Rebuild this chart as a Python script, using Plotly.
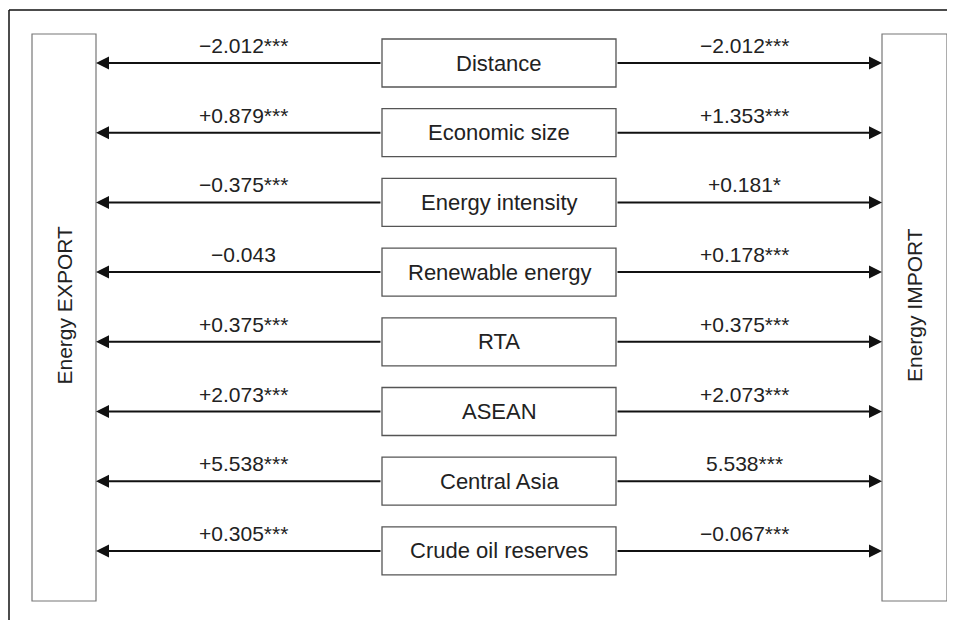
import plotly.graph_objects as go

factors = ["Distance", "Economic size", "Energy intensity", "Renewable energy",
           "RTA", "ASEAN", "Central Asia", "Crude oil reserves"]
export_coef = ["\u22122.012***", "+0.879***", "\u22120.375***", "\u22120.043",
               "+0.375***", "+2.073***", "+5.538***", "+0.305***"]
import_coef = ["\u22122.012***", "+1.353***", "+0.181*", "+0.178***",
               "+0.375***", "+2.073***", "5.538***", "\u22120.067***"]
left_title = "Energy EXPORT"
right_title = "Energy IMPORT"

W, H = 955, 620
OFF = 8  # page body margin
row0, step = 63, 69.7
box_x0, box_x1, box_h = 382, 616, 48
lbox = (32, 96)
rbox = (882, 947)
big_y = (34, 601)
txt = "#222222"
font = "Liberation Sans, Arial, sans-serif"

fig = go.Figure()
shapes = []
annotations = []

# outer frame (top and left edges)
shapes.append(dict(type="line", x0=9, x1=W + 20, y0=10, y1=10, line=dict(color="#111", width=1.5)))
shapes.append(dict(type="line", x0=9, x1=9, y0=10, y1=H + 20, line=dict(color="#111", width=1.5)))

# big side boxes
for (x0, x1) in (lbox, rbox):
    shapes.append(dict(type="rect", x0=x0, x1=x1, y0=big_y[0], y1=big_y[1],
                       line=dict(color="#777", width=1.2), fillcolor="white"))
cy = (big_y[0] + big_y[1]) / 2 - 12
annotations.append(dict(x=(lbox[0] + lbox[1]) / 2, y=cy, text=left_title, showarrow=False,
                        textangle=-90, font=dict(size=21, color=txt, family=font)))
annotations.append(dict(x=(rbox[0] + rbox[1]) / 2, y=cy, text=right_title, showarrow=False,
                        textangle=-90, font=dict(size=21, color=txt, family=font)))

for i, name in enumerate(factors):
    y = row0 + i * step
    shapes.append(dict(type="rect", x0=box_x0, x1=box_x1, y0=y - box_h / 2, y1=y + box_h / 2,
                       line=dict(color="#555", width=1.3), fillcolor="white"))
    annotations.append(dict(x=(box_x0 + box_x1) / 2, y=y, text=name, showarrow=False,
                            font=dict(size=22, color=txt, family=font)))
    # arrows
    annotations.append(dict(x=lbox[1], y=y, ax=box_x0, ay=y, axref="x", ayref="y",
                            xref="x", yref="y", text="", showarrow=True, arrowhead=2,
                            arrowsize=1.3, arrowwidth=2, arrowcolor="#111", standoff=0))
    annotations.append(dict(x=rbox[0], y=y, ax=box_x1, ay=y, axref="x", ayref="y",
                            xref="x", yref="y", text="", showarrow=True, arrowhead=2,
                            arrowsize=1.3, arrowwidth=2, arrowcolor="#111", standoff=0))
    annotations.append(dict(x=243, y=y - 4, text=export_coef[i], showarrow=False,
                            yanchor="bottom", font=dict(size=21, color=txt, family=font)))
    annotations.append(dict(x=744, y=y - 4, text=import_coef[i], showarrow=False,
                            yanchor="bottom", font=dict(size=21, color=txt, family=font)))

fig.update_layout(
    width=W, height=H, margin=dict(l=0, r=0, t=0, b=0),
    paper_bgcolor="white", plot_bgcolor="white",
    xaxis=dict(range=[OFF, W + OFF], visible=False, fixedrange=True),
    yaxis=dict(range=[H + OFF, OFF], visible=False, fixedrange=True),
    shapes=shapes, annotations=annotations, showlegend=False,
)
fig.write_html("out.html", config={"displayModeBar": False})
